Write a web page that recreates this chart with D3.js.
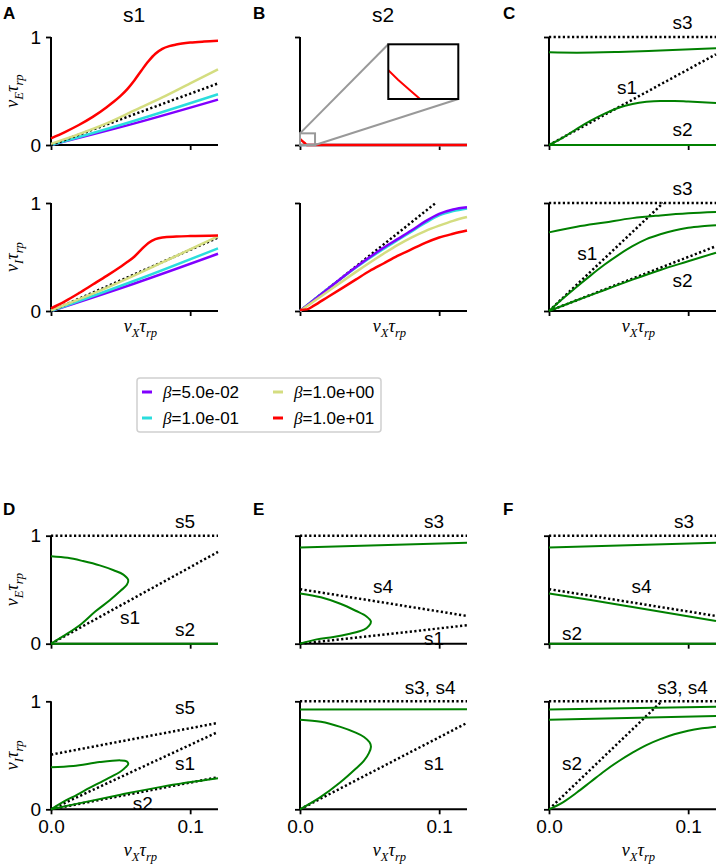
<!DOCTYPE html>
<html><head><meta charset="utf-8">
<script src="https://cdn.jsdelivr.net/npm/d3@7"></script>
<style>body{margin:0;background:#fff}svg{display:block}</style>
</head><body>
<svg id="fig" width="719" height="866"></svg>
<script>
// ---------------- data ----------------
const xTickValues = [0, 0.1];
const xTickLabels = ["0.0", "0.1"];
const yTickValues = [0, 1];
const yTickLabels = ["0", "1"];
const panelLetters = ["A", "B", "C", "D", "E", "F"];
const columnTitles = ["s1", "s2", ""];
const betaLabels = ["5.0e-02", "1.0e-01", "1.0e+00", "1.0e+01"];

// Panel A (rows: nu_E, nu_I), one series per beta
const aE_b0 = [[0,0],[0.06,0.20],[0.12,0.42]];
const aE_b1 = [[0,0],[0.06,0.225],[0.12,0.47]];
const aE_b2 = [[0,0.01],[0.02,0.10],[0.04,0.20],[0.06,0.32],[0.08,0.44],[0.1,0.57],[0.12,0.70]];
const aE_b3 = [[0,0.062],[0.01,0.12],[0.02,0.185],[0.03,0.26],[0.04,0.35],[0.045,0.40],[0.05,0.455],[0.055,0.52],[0.06,0.60],[0.065,0.69],[0.07,0.775],[0.075,0.845],[0.08,0.89],[0.085,0.915],[0.09,0.93],[0.1,0.948],[0.11,0.958],[0.12,0.965]];
const aE_s1 = [[0,0],[0.12,0.57]];
const aI_b0 = [[0,0],[0.06,0.255],[0.12,0.53]];
const aI_b1 = [[0,0],[0.06,0.28],[0.12,0.58]];
const aI_b2 = [[0,0.005],[0.03,0.16],[0.06,0.33],[0.09,0.51],[0.12,0.69]];
const aI_b3 = [[0,0.025],[0.01,0.09],[0.02,0.165],[0.03,0.245],[0.04,0.325],[0.05,0.41],[0.055,0.455],[0.06,0.505],[0.065,0.57],[0.07,0.63],[0.075,0.665],[0.08,0.68],[0.09,0.689],[0.1,0.694],[0.12,0.70]];
const aI_s1 = [[0,0],[0.12,0.68]];

// Panel B
const bE_low = [[0,0],[0.12,0]];
const bE_b3 = [[0,0.057],[0.0015,0.038],[0.0033,0.018],[0.0049,0],[0.12,0]];
const bI_b0 = [[0,0],[0.02,0.205],[0.04,0.405],[0.06,0.585],[0.07,0.665],[0.08,0.745],[0.09,0.83],[0.1,0.90],[0.11,0.94],[0.12,0.96]];
const bI_b1 = [[0,0],[0.02,0.205],[0.04,0.40],[0.06,0.575],[0.07,0.655],[0.08,0.735],[0.09,0.815],[0.1,0.885],[0.11,0.925],[0.12,0.95]];
const bI_b2 = [[0,0],[0.02,0.18],[0.04,0.36],[0.06,0.53],[0.07,0.61],[0.08,0.68],[0.09,0.74],[0.1,0.79],[0.11,0.835],[0.12,0.87]];
const bI_b3 = [[0,0.01],[0.005,0.015],[0.01,0.05],[0.02,0.13],[0.03,0.21],[0.04,0.29],[0.05,0.37],[0.06,0.44],[0.07,0.51],[0.08,0.57],[0.09,0.63],[0.1,0.68],[0.11,0.715],[0.12,0.745]];
const bI_s2 = [[0,0],[0.0975,1]];
const insetDomainX = [0, 0.0108];
const insetDomainY = [0, 0.108];

// Panel C
const cE_s3 = [[0,1],[0.12,1]];
const cE_up = [[0,0.858],[0.02,0.855],[0.05,0.862],[0.08,0.875],[0.12,0.895]];
const cE_s1 = [[0,0],[0.12,0.84]];
const cE_mid = [[0,0],[0.01,0.068],[0.02,0.15],[0.03,0.225],[0.04,0.29],[0.05,0.345],[0.06,0.38],[0.07,0.40],[0.08,0.408],[0.09,0.408],[0.1,0.402],[0.12,0.39]];
const cE_s2 = [[0,0],[0.12,0]];
const cI_s3 = [[0,1],[0.12,1]];
const cI_up = [[0,0.728],[0.02,0.78],[0.04,0.82],[0.06,0.86],[0.08,0.885],[0.1,0.905],[0.12,0.917]];
const cI_s1 = [[0,0],[0.082,1]];
const cI_mid = [[0,0],[0.01,0.115],[0.02,0.225],[0.03,0.33],[0.04,0.43],[0.05,0.52],[0.06,0.60],[0.07,0.665],[0.08,0.71],[0.09,0.745],[0.1,0.77],[0.11,0.785],[0.12,0.795]];
const cI_s2 = [[0,0],[0.12,0.60]];
const cI_low = [[0,0],[0.02,0.10],[0.04,0.195],[0.06,0.29],[0.08,0.38],[0.1,0.46],[0.12,0.54]];

// Panel D
const dE_s5 = [[0,1],[0.12,1]];
const dE_s1 = [[0,0],[0.12,0.85]];
const dE_fold = [[0,0.81],[0.012,0.795],[0.023,0.765],[0.035,0.725],[0.045,0.68],[0.052,0.64],[0.0555,0.59],[0.0545,0.545],[0.05,0.49],[0.042,0.40],[0.032,0.30],[0.022,0.185],[0.012,0.095],[0.005,0.04],[0,0]];
const dE_s2 = [[0,0],[0.12,0]];
const dI_s5 = [[0,0.506],[0.12,0.80]];
const dI_s1 = [[0,0],[0.12,0.716]];
const dI_s2 = [[0,0],[0.12,0.297]];
const dI_fold = [[0,0.39],[0.016,0.40],[0.035,0.437],[0.05,0.453],[0.0544,0.444],[0.0555,0.42],[0.0537,0.39],[0.05,0.35],[0.04,0.28],[0.028,0.20],[0.018,0.13],[0.011,0.084],[0,0]];
const dI_low = [[0,0],[0.02,0.055],[0.05,0.135],[0.08,0.21],[0.12,0.287]];

// Panel E
const eE_s3 = [[0,1],[0.12,1]];
const eE_up = [[0,0.89],[0.12,0.935]];
const eE_s4 = [[0,0.505],[0.12,0.257]];
const eE_s1 = [[0,0],[0.12,0.17]];
const eE_fold = [[0,0.465],[0.015,0.43],[0.029,0.37],[0.04,0.305],[0.048,0.25],[0.051,0.205],[0.0495,0.165],[0.046,0.13],[0.035,0.09],[0.024,0.062],[0.012,0.04],[0,0]];
const eI_s34 = [[0,1],[0.12,1]];
const eI_up = [[0,0.923],[0.12,0.926]];
const eI_s1 = [[0,0],[0.12,0.80]];
const eI_fold = [[0,0.83],[0.015,0.81],[0.029,0.763],[0.04,0.71],[0.046,0.67],[0.05,0.62],[0.051,0.58],[0.0495,0.52],[0.046,0.45],[0.04,0.375],[0.029,0.25],[0.0144,0.11],[0,0]];

// Panel F
const fE_s3 = [[0,1],[0.12,1]];
const fE_up = [[0,0.89],[0.12,0.935]];
const fE_s4 = [[0,0.505],[0.12,0.257]];
const fE_mid = [[0,0.465],[0.03,0.405],[0.06,0.34],[0.09,0.275],[0.12,0.21]];
const fE_s2 = [[0,0],[0.12,0]];
const fI_s34 = [[0,1],[0.12,1]];
const fI_up = [[0,0.923],[0.12,0.95]];
const fI_up2 = [[0,0.83],[0.12,0.865]];
const fI_s2 = [[0,0],[0.081,1]];
const fI_low = [[0,0],[0.01,0.065],[0.02,0.155],[0.03,0.255],[0.04,0.355],[0.05,0.445],[0.06,0.525],[0.07,0.595],[0.08,0.65],[0.09,0.695],[0.1,0.728],[0.11,0.75],[0.12,0.765]];

// annotation labels (text, x, y in data units)
const cE_notes = [["s3",0.096,1.13],["s1",0.056,0.537],["s2",0.096,0.139]];
const cI_notes = [["s3",0.096,1.13],["s1",0.0275,0.537],["s2",0.096,0.287]];
const dE_notes = [["s5",0.0964,1.127],["s1",0.0568,0.245],["s2",0.0964,0.133]];
const dI_notes = [["s5",0.0964,0.94],["s1",0.0964,0.427],["s2",0.066,0.056]];
const eE_notes = [["s3",0.0964,1.127],["s4",0.0597,0.53],["s1",0.0964,0.05]];
const eI_notes = [["s3, s4",0.0935,1.125],["s1",0.0964,0.427]];
const fE_notes = [["s3",0.097,1.127],["s4",0.0665,0.53],["s2",0.0166,0.097]];
const fI_notes = [["s3, s4",0.096,1.125],["s2",0.0166,0.427]];

// ---------------- styles / layout ----------------
const betaColors = ["#8000ff", "#2adddd", "#d4dd80", "#ff0000"];
const GREEN = "#008000";
const SANS = "Liberation Sans, Arial, sans-serif";
const SERIF = "Liberation Serif, Times New Roman, serif";
const colX = [51, 300, 549];
const letterX = [3, 253, 503];
const plotW = 167;
const rowY = [37, 203, 535.7, 701.3];
const plotH = 108;
const FS = 19;

const svg = d3.select("#fig");

const B = (d, i) => ({d, color: betaColors[i], w: 2.5, curve: d3.curveMonotoneX});
const G = (d, fold) => ({d, color: GREEN, w: 2, curve: fold ? d3.curveCatmullRom.alpha(0.5) : d3.curveMonotoneX});
const D = d => ({d, color: "#000", w: 2.5, dash: "2.2,2.4"});

const panels = [
  {c:0, r:0, lines:[B(aE_b0,0),B(aE_b1,1),D(aE_s1),B(aE_b2,2),B(aE_b3,3)], notes:[]},
  {c:0, r:1, lines:[B(aI_b0,0),B(aI_b1,1),D(aI_s1),B(aI_b2,2),B(aI_b3,3)], notes:[]},
  {c:1, r:0, lines:[B(bE_low,0),B(bE_low,1),B(bE_low,2),B(bE_b3,3)], notes:[], inset:true},
  {c:1, r:1, lines:[D(bI_s2),B(bI_b1,1),B(bI_b0,0),B(bI_b2,2),B(bI_b3,3)], notes:[]},
  {c:2, r:0, lines:[D(cE_s3),D(cE_s1),G(cE_up),G(cE_mid),G(cE_s2)], notes:cE_notes},
  {c:2, r:1, lines:[D(cI_s3),D(cI_s1),D(cI_s2),G(cI_up),G(cI_mid),G(cI_low)], notes:cI_notes},
  {c:0, r:2, lines:[D(dE_s5),D(dE_s1),G(dE_fold,true),G(dE_s2)], notes:dE_notes},
  {c:0, r:3, lines:[D(dI_s5),D(dI_s1),D(dI_s2),G(dI_fold,true),G(dI_low)], notes:dI_notes},
  {c:1, r:2, lines:[D(eE_s3),D(eE_s4),D(eE_s1),G(eE_up),G(eE_fold,true)], notes:eE_notes},
  {c:1, r:3, lines:[D(eI_s34),D(eI_s1),G(eI_up),G(eI_fold,true)], notes:eI_notes},
  {c:2, r:2, lines:[D(fE_s3),D(fE_s4),G(fE_up),G(fE_mid),G(fE_s2)], notes:fE_notes},
  {c:2, r:3, lines:[D(fI_s34),D(fI_s2),G(fI_up),G(fI_up2),G(fI_low)], notes:fI_notes},
];

function mathText(sel, parts, size) {
  parts.forEach(([t, sub], i) => {
    const prevSub = i > 0 && parts[i-1][1];
    let dy = 0;
    if (sub && !prevSub) dy = size * 0.25;
    if (!sub && prevSub) dy = -size * 0.25;
    sel.append("tspan").attr("font-size", sub ? size * 0.7 : size).attr("dy", dy).text(t);
  });
}
const nuX = [["ν",false],["X",true],["τ",false],["rp",true]];
const nuE = [["ν",false],["E",true],["τ",false],["rp",true]];
const nuI = [["ν",false],["I",true],["τ",false],["rp",true]];

panels.forEach(p => {
  const x0 = colX[p.c], y0 = rowY[p.r];
  const x = d3.scaleLinear().domain([0, 0.12]).range([x0, x0 + plotW]);
  const y = d3.scaleLinear().domain([0, 1]).range([y0 + plotH, y0]);
  const g = svg.append("g");

  // axes
  const xa = d3.axisBottom(x).tickValues(xTickValues).tickSize(5).tickPadding(5)
    .tickFormat((d, i) => p.r === 3 ? xTickLabels[i] : "");
  const ya = d3.axisLeft(y).tickValues(yTickValues).tickSize(5).tickPadding(5)
    .tickFormat((d, i) => p.c === 0 ? yTickLabels[i] : "");
  const gx = g.append("g").attr("transform", `translate(0,${y0 + plotH})`).call(xa);
  const gy = g.append("g").attr("transform", `translate(${x0},0)`).call(ya);
  [gx, gy].forEach(a => {
    a.select(".domain").attr("stroke", "#000").attr("stroke-width", 2).attr("d",
      a === gx ? `M${x0},0H${x0 + plotW}` : `M0,${y0 + plotH}V${y0}`);
    a.selectAll(".tick line").attr("stroke", "#000").attr("stroke-width", 1.8);
    a.selectAll(".tick text").attr("font-family", SANS).attr("font-size", FS).attr("fill", "#000");
  });

  // lines
  p.lines.forEach(L => {
    const gen = d3.line().x(d => x(d[0])).y(d => y(d[1])).curve(L.curve || d3.curveLinear);
    g.append("path").attr("d", gen(L.d)).attr("fill", "none")
      .attr("stroke", L.color).attr("stroke-width", L.w)
      .attr("stroke-dasharray", L.dash || null);
  });

  // notes
  p.notes.forEach(([t, nx, ny]) => {
    g.append("text").attr("x", x(nx)).attr("y", y(ny)).attr("text-anchor", "middle")
      .attr("dominant-baseline", "central").attr("font-family", SANS).attr("font-size", FS).text(t);
  });

  // y label
  if (p.c === 0) {
    const t = g.append("text").attr("transform", `translate(18,${y0 + plotH / 2}) rotate(-90)`)
      .attr("text-anchor", "middle").attr("font-family", SERIF).attr("font-style", "italic");
    mathText(t, (p.r % 2 === 0) ? nuE : nuI, 18);
  }
  // x label
  if (p.r === 1 || p.r === 3) {
    const t = g.append("text").attr("x", x0 + plotW / 2 + 6).attr("y", p.r === 1 ? 332 : 856)
      .attr("text-anchor", "middle").attr("font-family", SERIF).attr("font-style", "italic");
    mathText(t, nuX, 18);
  }
  // panel letter and title
  if (p.r === 0 || p.r === 2) {
    svg.append("text").attr("x", letterX[p.c]).attr("y", p.r === 0 ? 19 : 515)
      .attr("font-family", SANS).attr("font-weight", "bold").attr("font-size", 17)
      .text(panelLetters[p.c + (p.r === 2 ? 3 : 0)]);
    if (p.r === 0 && columnTitles[p.c]) {
      svg.append("text").attr("x", x0 + 83).attr("y", 22).attr("text-anchor", "middle")
        .attr("font-family", SANS).attr("font-size", 21).text(columnTitles[p.c]);
    }
  }

  // inset for panel B upper
  if (p.inset) {
    const ix = d3.scaleLinear().domain(insetDomainX).range([388.3, 458.3]);
    const iy = d3.scaleLinear().domain(insetDomainY).range([99, 44.3]);
    const rx0 = x(insetDomainX[0]), rx1 = x(insetDomainX[1]);
    const ry0 = y(insetDomainY[0]), ry1 = y(insetDomainY[1]);
    const gray = "#999";
    g.append("rect").attr("x", rx0).attr("y", ry1).attr("width", rx1 - rx0).attr("height", ry0 - ry1)
      .attr("fill", "none").attr("stroke", gray).attr("stroke-width", 2);
    g.append("line").attr("x1", rx0).attr("y1", ry1).attr("x2", ix.range()[0]).attr("y2", iy.range()[1])
      .attr("stroke", gray).attr("stroke-width", 2);
    g.append("line").attr("x1", rx1).attr("y1", ry0).attr("x2", ix.range()[1]).attr("y2", iy.range()[0])
      .attr("stroke", gray).attr("stroke-width", 2);
    g.append("clipPath").attr("id", "insetClip").append("rect")
      .attr("x", 388.3).attr("y", 44.3).attr("width", 70).attr("height", 54.7);
    g.append("rect").attr("x", 388.3).attr("y", 44.3).attr("width", 70).attr("height", 54.7).attr("fill", "#fff");
    const gen = d3.line().x(d => ix(d[0])).y(d => iy(d[1]));
    g.append("path").attr("clip-path", "url(#insetClip)").attr("d", gen(bE_b3)).attr("fill", "none")
      .attr("stroke", betaColors[3]).attr("stroke-width", 2);
    g.append("rect").attr("x", 388.3).attr("y", 44.3).attr("width", 70).attr("height", 54.7)
      .attr("fill", "none").attr("stroke", "#000").attr("stroke-width", 2);
  }
});

// legend
const lg = svg.append("g");
lg.append("rect").attr("x", 137).attr("y", 378).attr("width", 244).attr("height", 54).attr("rx", 3)
  .attr("fill", "#fff").attr("stroke", "#d0d0d0").attr("stroke-width", 1.5);
betaLabels.forEach((lab, i) => {
  const col = i < 2 ? 0 : 1, row = i % 2;
  const lx = 142 + col * 131, ly = 392 + row * 26;
  lg.append("line").attr("x1", lx).attr("x2", lx + 10).attr("y1", ly).attr("y2", ly)
    .attr("stroke", betaColors[i]).attr("stroke-width", 3);
  const t = lg.append("text").attr("x", lx + 21).attr("y", ly).attr("dominant-baseline", "central")
    .attr("font-family", SANS).attr("font-size", 17);
  t.append("tspan").attr("font-family", SERIF).attr("font-style", "italic").text("β");
  t.append("tspan").text("=" + lab);
});
</script>
</body></html>
